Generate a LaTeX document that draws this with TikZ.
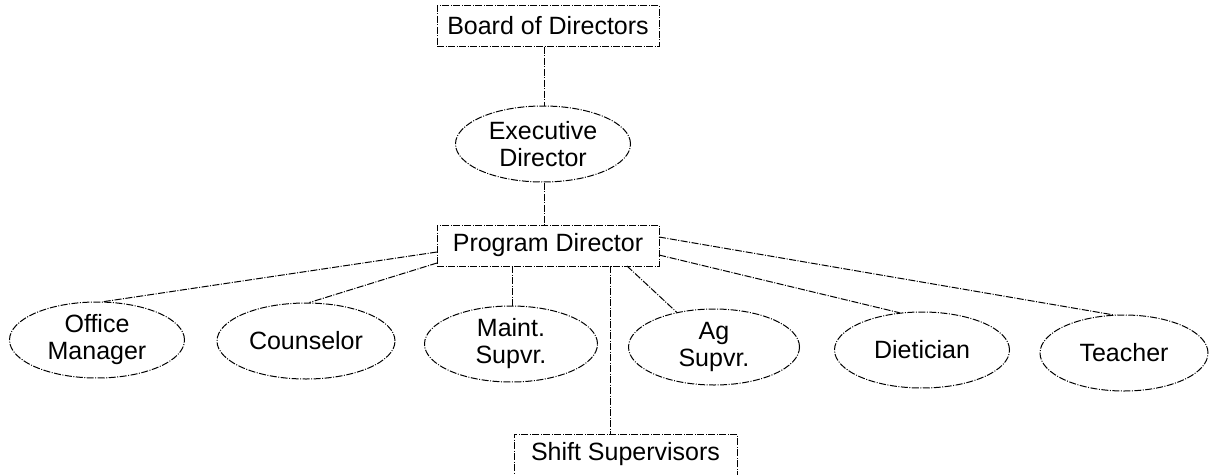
\documentclass[tikz,border=0pt]{standalone}
\usepackage{fontspec}
\setmainfont{Liberation Sans}
\usetikzlibrary{shapes.geometric}
\begin{document}
\begin{tikzpicture}[x=1pt,y=-1pt,
  lnk/.style={draw=black, line width=1pt, dash pattern=on 7pt off 1.5pt on 1pt off 1.5pt},
  boxnode/.style={lnk, rectangle, inner sep=0pt, minimum width=222pt, minimum height=41pt,
    font=\fontsize{25}{27}\selectfont, align=center},
  ovalnode/.style={lnk, ellipse, inner sep=0pt, minimum width=175pt, minimum height=76pt,
    font=\fontsize{25}{27}\selectfont, align=center}]
\useasboundingbox (0,0) rectangle (1209,474);
\clip (0,0) rectangle (1209,474);
\fill[white] (0,0) rectangle (1209,474);
\node[boxnode] (bod) at (548,26) {Board of Directors};
\node[ovalnode] (ed) at (543,144) {Executive\\Director};
\node[boxnode] (pd) at (548,245.5) {Program Director};
\node[boxnode, minimum width=223pt] (ss) at (625.5,454.5) {Shift Supervisors};
\node[ovalnode] (om) at (97,340) {Office\\Manager};
\node[ovalnode, minimum width=178pt] (cn) at (306,341) {Counselor};
\node[ovalnode, minimum width=173pt] (ms) at (511,344) {Maint.\\Supvr.};
\node[ovalnode, minimum width=171pt] (ag) at (714,347) {Ag\\Supvr.};
\node[ovalnode] (di) at (922,350) {Dietician};
\node[ovalnode, minimum width=168pt] (te) at (1124,353) {Teacher};
\coordinate (bodb) at (544,46.5);
\draw[lnk] (bodb) -- (ed.north -| bodb);
\draw[lnk] (ed.south -| bodb) -- (pd.north -| bodb);
\coordinate (pdl1) at (437,252);
\coordinate (pdl2) at (437,263);
\coordinate (pdr1) at (659,237);
\coordinate (pdr2) at (659,255);
\coordinate (pdb1) at (512,266);
\coordinate (pdb2) at (610,266);
\coordinate (pdb3) at (627,266);
\draw[lnk] (pdl1) -- (om.80);
\draw[lnk] (pdl2) -- (cn.85);
\draw[lnk] (pdb1) -- (ms.north -| pdb1);
\draw[lnk] (pdb2) -- (ss.north -| pdb2);
\draw[lnk] (pdb3) -- (ag);
\draw[lnk] (pdr2) -- (di.121);
\draw[lnk] (pdr1) -- (te.106);
\end{tikzpicture}
\end{document}
